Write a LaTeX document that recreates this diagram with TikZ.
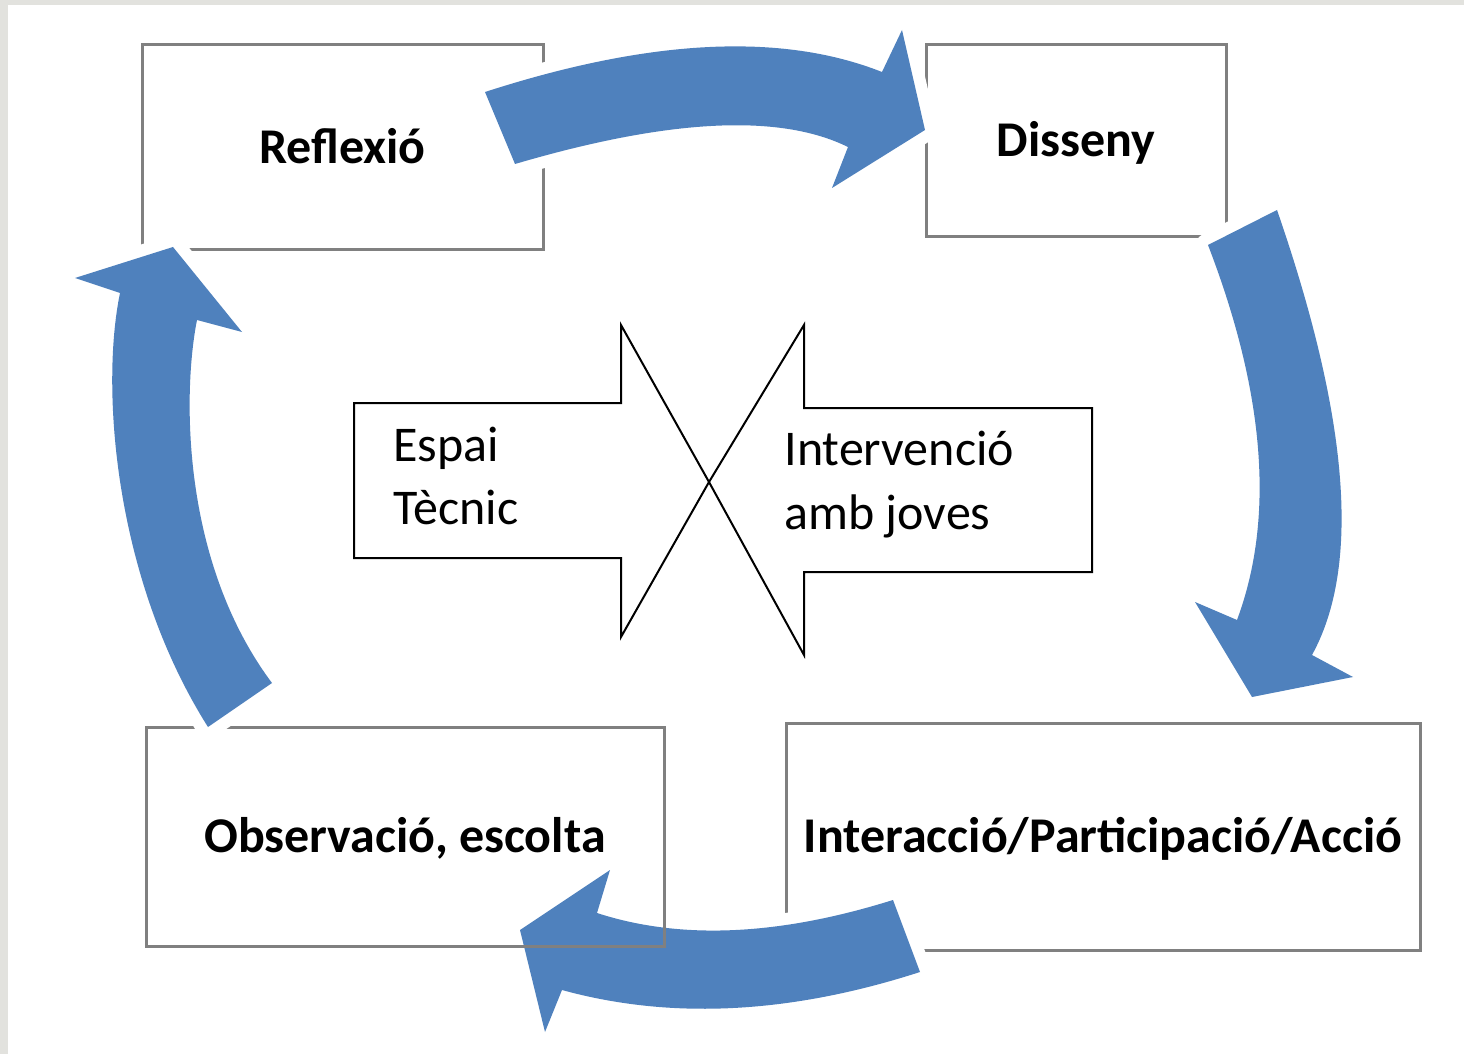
\documentclass[tikz,border=0pt]{standalone}
\usepackage{fontspec}
\setmainfont{Carlito}
\definecolor{arrowblue}{HTML}{4F81BD}
\definecolor{boxgray}{HTML}{808080}
\definecolor{bggray}{HTML}{E2E2DE}
\begin{document}
\begin{tikzpicture}[x=0.5pt, y=-0.5pt,
    etapa/.style={rectangle, draw=boxgray, line width=1.5pt, inner sep=0pt,
        font=\fontsize{25}{30}\selectfont\bfseries, text height=16pt, text depth=0pt},
    fletxa/.style={fill=arrowblue, preaction={draw=white, line width=12pt, line join=round}},
    bloc/.style={draw=black, line width=1pt},
    rotul/.style={anchor=base west, inner sep=0pt, font=\fontsize{25}{30}\selectfont}]
\useasboundingbox (0,0) rectangle (1464,1054);
\fill[bggray] (0,0) rectangle (1464,1054);
\fill[white] (8,5) rectangle (1464,1054);

% les etapes
\node[etapa, minimum width=200.5pt, minimum height=102.5pt] (refl) at (342.5,147.5) {Reflexió};
\node[etapa, minimum width=150pt, minimum height=96pt] (diss) at (1076,141) {Disseny};
\node[etapa, minimum width=317pt, minimum height=113.5pt] (inter) at (1103,836.5) {Interacció/Participació/Acció};

% fletxes corbes
\path[fletxa] (485,92) .. controls (649,39) and (781,32) .. (882,72) -- (902,30) -- (925,130)
    -- (832,188) -- (848,147) .. controls (779,113) and (668,119) .. (515,164) -- cycle;
\path[fletxa] (1277,210) .. controls (1349,418) and (1361,566) .. (1312,655) -- (1353,677) -- (1252,697)
    -- (1195,602) -- (1237,620) .. controls (1275,518) and (1265,393) .. (1208,245) -- cycle;
\path[fletxa] (920,972) .. controls (790,1014) and (671,1020) .. (562,990) -- (545,1032) -- (520,930)
    -- (610,870) -- (597,913) .. controls (680,940) and (778,936) .. (893,900) -- cycle;

\node[etapa, minimum width=259pt, minimum height=109.5pt] (obs) at (405,836.5) {Observació, escolta};

\path[fletxa] (208,727) .. controls (115,580) and (100,390) .. (120,293) -- (75,278) -- (173,247)
    -- (242,332) -- (197,320) .. controls (183,390) and (180,560) .. (272,683) -- cycle;

% les dues fletxes del centre
\coordinate (creu) at (709,482);
\draw[bloc] (354,403) -- (621,403) -- (621,325) -- (creu) -- (621,637) -- (621,558) -- (354,558) -- cycle;
\draw[bloc] (1092,408) -- (804,408) -- (804,325) -- (creu) -- (804,655) -- (804,572) -- (1092,572) -- cycle;

\node[rotul] (espai) at (393,461) {Espai};
\node[rotul] (tecnic) at (393,524) {Tècnic};
\node[rotul] (interv) at (784,466) {Intervenció};
\node[rotul] (joves) at (784,529) {amb joves};
\end{tikzpicture}
\end{document}
